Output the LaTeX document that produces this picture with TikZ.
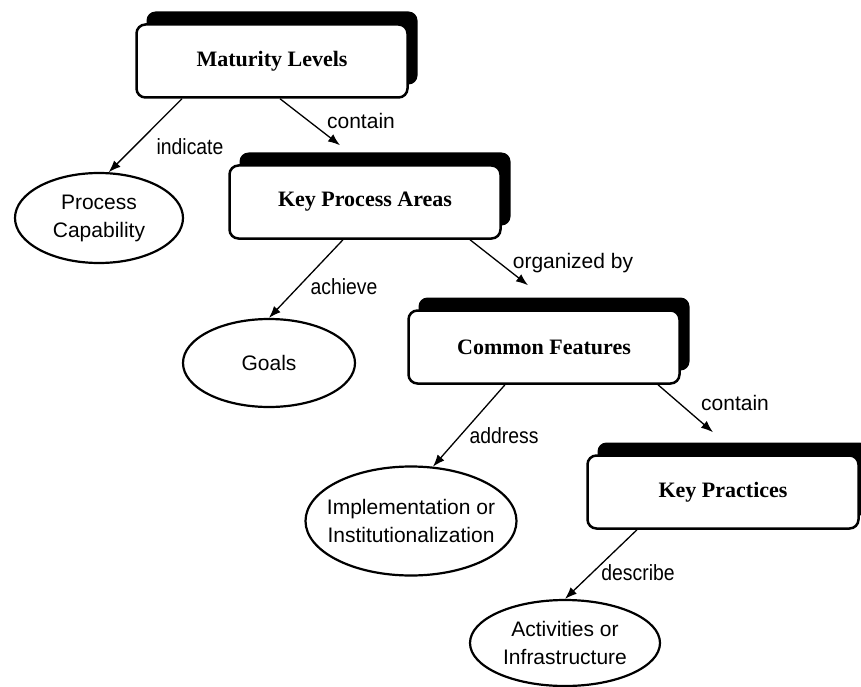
\documentclass[tikz,border=0pt]{standalone}
\usepackage{fontspec}
\setmainfont{Liberation Serif}
\newfontfamily\ovalfont{Liberation Sans}
\newfontfamily\narrowfont[FakeStretch=0.88]{Liberation Sans}
\usetikzlibrary{arrows.meta,shapes.geometric,shadows}

\begin{document}
\begin{tikzpicture}[x=1pt,y=-1pt,>={Latex[length=12pt,width=9pt]},
    stage/.style={draw,line width=2.5pt,rounded corners=9pt,fill=white,
        minimum width=271pt,minimum height=73pt,
        font=\fontsize{22}{26}\selectfont\bfseries,
        drop shadow={shadow xshift=10pt,shadow yshift=13pt,fill=black,opacity=1}},
    oval/.style={draw,ellipse,line width=2.2pt,inner xsep=-16pt,inner ysep=0pt,
        align=center,font=\ovalfont\fontsize{21}{28}\selectfont},
    rel/.style={font=\narrowfont\fontsize{22}{26}\selectfont},
    relb/.style={font=\ovalfont\fontsize{21}{26}\selectfont}]
    \useasboundingbox (0,0) rectangle (861,687);
    \node[stage] (ml) at (272,61) {Maturity Levels};
    \node[stage] (kpa) at (365,202) {Key Process Areas};
    \node[stage] (cf) at (544,347) {Common Features};
    \node[stage] (kp) at (723,492) {Key Practices};
    \node[oval,minimum width=168pt,minimum height=90pt] (pc) at (99,218)
        {Process\\Capability};
    \node[oval,minimum width=172pt,minimum height=88pt] (goals) at (269,363) {Goals};
    \node[oval,minimum width=211pt,minimum height=109pt] (impl) at (411,521)
        {Implementation or\\Institutionalization};
    \node[oval,minimum width=190pt,minimum height=86pt] (act) at (565,643)
        {Activities or\\Infrastructure};
    \draw[->,line width=1.3pt] ([xshift=-90pt]ml.south) -- (pc.78);
    \draw[->,line width=1.3pt] ([xshift=8pt]ml.south) -- ([xshift=-25pt,yshift=19pt]kpa.north);
    \draw[->,line width=1.3pt] ([xshift=-22pt]kpa.south) -- (goals.north);
    \draw[->,line width=1.3pt] ([xshift=105pt]kpa.south) -- ([xshift=-16pt,yshift=24pt]cf.north);
    \draw[->,line width=1.3pt] ([xshift=-39pt]cf.south) -- (impl.68);
    \draw[->,line width=1.3pt] ([xshift=114pt]cf.south) -- ([xshift=-10pt,yshift=22pt]kp.north);
    \draw[->,line width=1.3pt] ([xshift=-86pt]kp.south) -- (act.north);
    \node[rel] (indicate) at (190,147) {indicate};
    \node[relb] (contain) at (361,121) {contain};
    \node[rel] (achieve) at (344,287) {achieve};
    \node[relb] (organized) at (573,263) {organized by};
    \node[rel] (address) at (504,436) {address};
    \node[relb] (containb) at (735,403) {contain};
    \node[rel] (describe) at (638,573) {describe};
\end{tikzpicture}
\end{document}
